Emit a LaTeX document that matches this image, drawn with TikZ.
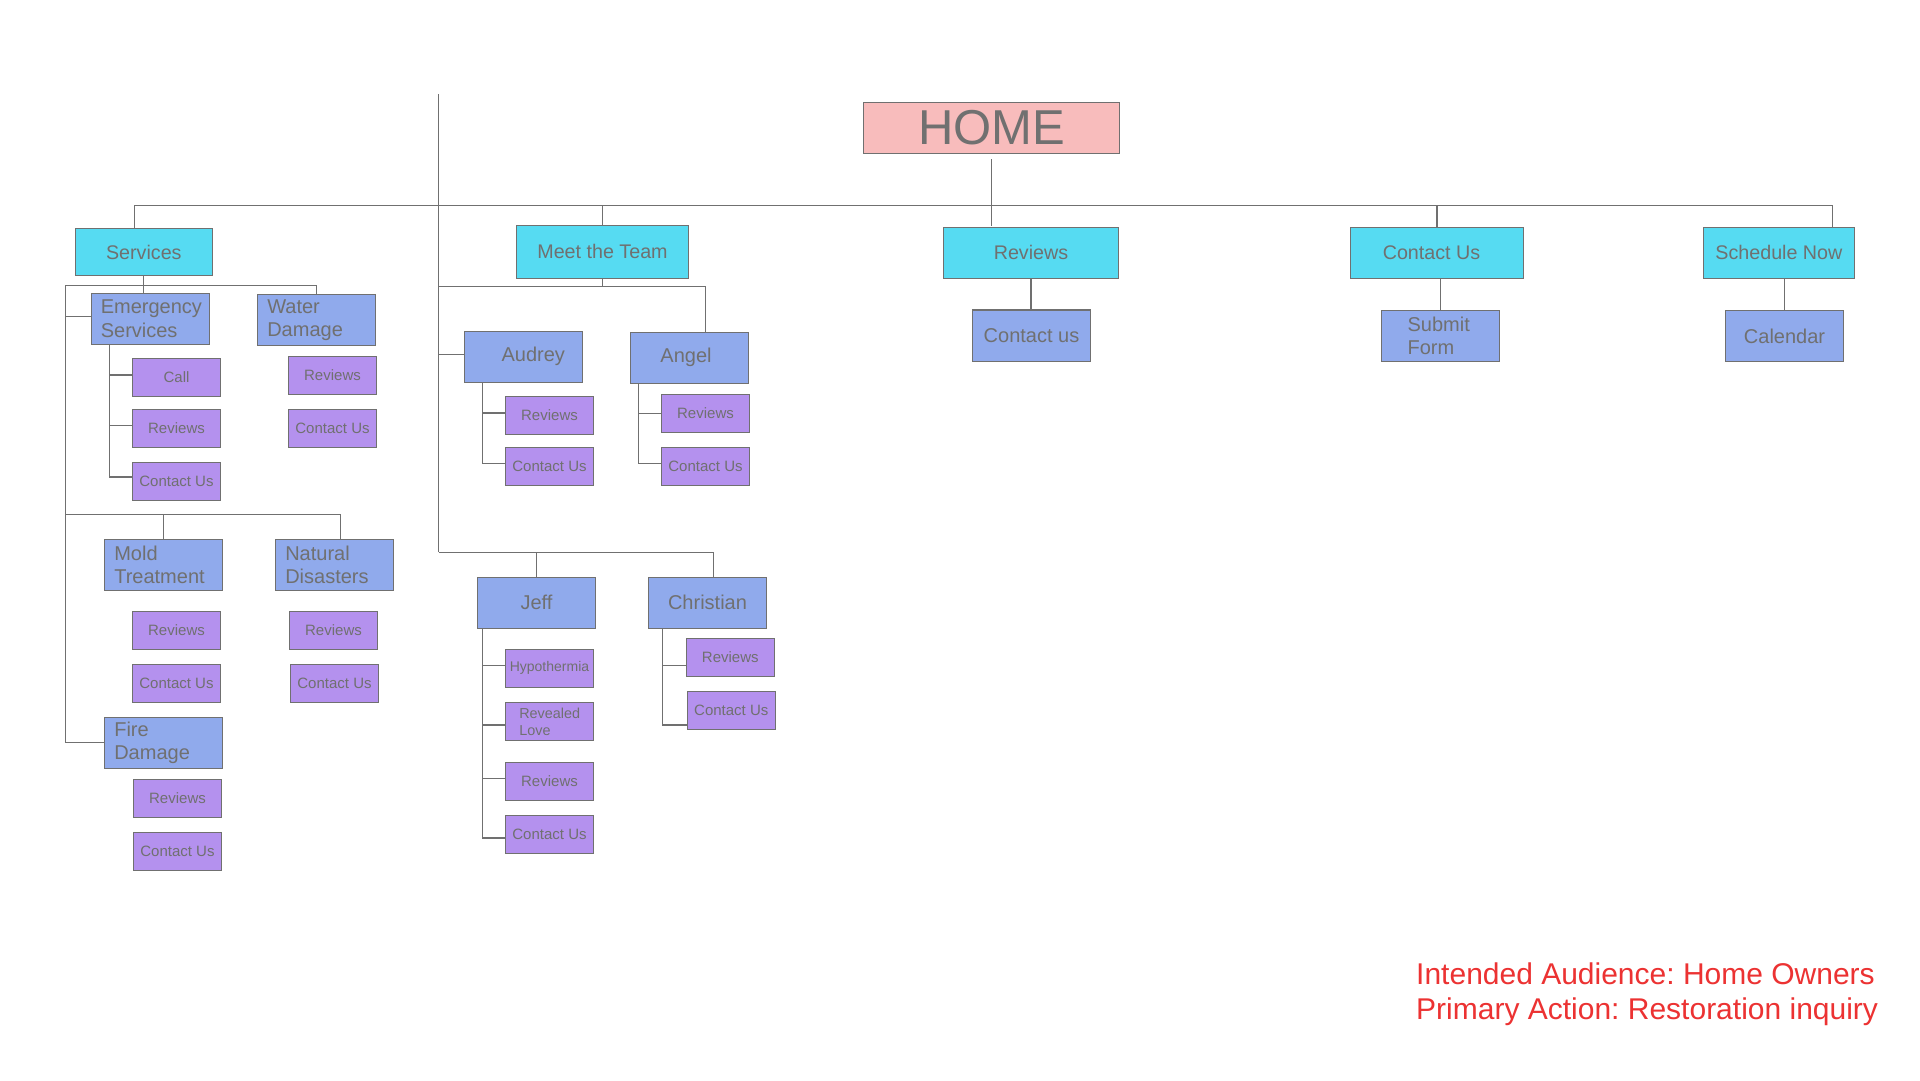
\documentclass[tikz,border=0pt]{standalone}
\usepackage{fontspec}
\setmainfont{Liberation Sans}
\definecolor{txt}{RGB}{112,112,112}
\definecolor{ln}{RGB}{112,112,112}
\definecolor{homefill}{RGB}{248,188,188}
\definecolor{cyanfill}{RGB}{86,219,242}
\definecolor{bluefill}{RGB}{144,170,236}
\definecolor{purpfill}{RGB}{180,145,238}
\definecolor{redtxt}{RGB}{236,50,50}
\tikzset{
  box/.style={draw=ln, line width=1.2pt, outer sep=0pt, inner sep=0pt, text=txt},
  homebox/.style={box, fill=homefill, font=\fontsize{49}{56}\selectfont},
  topbox/.style={box, fill=cyanfill, font=\fontsize{19.7}{23.6}\selectfont},
  midbox/.style={box, fill=bluefill, font=\fontsize{20}{23.6}\selectfont},
  leafbox/.style={box, fill=purpfill, font=\fontsize{15}{18}\selectfont},
  conn/.style={draw=ln, line width=1.2pt},
}
% style, name, left, top, right, bottom, text
\newcommand\bx[7]{%
  \pgfmathsetmacro\bxW{#5-#3}\pgfmathsetmacro\bxH{#6-#4}%
  \pgfmathsetmacro\bxX{(#3+#5)/2}\pgfmathsetmacro\bxY{(#4+#6)/2}%
  \node[#1, minimum width=\bxW pt, minimum height=\bxH pt] (#2) at (\bxX,\bxY) {#7};}
% [inset] style, name, left, top, right, bottom, text (left aligned)
\newcommand\bxl[8][10]{%
  \pgfmathsetmacro\bxW{#6-#4}\pgfmathsetmacro\bxH{#7-#5}%
  \pgfmathsetmacro\bxX{(#4+#6)/2}\pgfmathsetmacro\bxY{(#5+#7)/2}%
  \pgfmathsetmacro\bxT{#6-#4-2*#1}%
  \node[#2, minimum width=\bxW pt, minimum height=\bxH pt, inner xsep=#1pt,
        text width=\bxT pt, align=left] (#3) at (\bxX,\bxY) {#8};}
\begin{document}
\frenchspacing
\begin{tikzpicture}[x=1pt,y=-1pt]
\fill[white] (0,0) rectangle (1920,1080);
\useasboundingbox (0,0) rectangle (1920,1080);

% top level
\bx{homebox}{home}{863.3}{102.3}{1119.7}{153.3}{HOME}
\bx{topbox}{services}{75.3}{228.7}{212.3}{275.3}{Services}
\bx{topbox}{meet}{516.3}{225.3}{688.7}{278.3}{Meet the Team}
\bx{topbox}{reviews}{943.3}{227.3}{1118.7}{278.3}{Reviews}
\bx{topbox}{contact}{1350.5}{227.3}{1523.5}{278.3}{Contact Us\kern11pt}
\bx{topbox}{sched}{1703.3}{227.3}{1854.5}{278.3}{Schedule Now}
\bx{midbox}{contactus}{972.3}{310}{1090.7}{361.3}{Contact us}
\bxl[26]{midbox}{submit}{1381.6}{310.3}{1499.7}{361.7}{Submit\\Form}
\bx{midbox}{calendar}{1725.5}{310.3}{1843.6}{361.7}{Calendar}

% services subtree
\bxl[9.5]{midbox}{es}{91.3}{293.7}{209.7}{344.3}{Emergency\\Services}
\bxl{midbox}{water}{257.3}{294.7}{375.7}{345.7}{Water\\Damage}
\bx{leafbox}{call}{132.3}{358.7}{220.7}{396.3}{Call}
\bx{leafbox}{esrev}{132.3}{409.7}{220.7}{447.3}{Reviews}
\bx{leafbox}{escon}{132.3}{462.7}{220.7}{500.3}{Contact Us}
\bx{leafbox}{wdrev}{288.3}{356.3}{376.7}{394.3}{Reviews}
\bx{leafbox}{wdcon}{288.3}{409.7}{376.7}{447.3}{Contact Us}
\bxl{midbox}{mold}{104.3}{539.3}{222.7}{590.3}{Mold\\Treatment}
\bxl{midbox}{natural}{275.3}{539.3}{393.7}{590.3}{Natural\\Disasters}
\bx{leafbox}{mdrev}{132.3}{611.3}{220.7}{649.7}{Reviews}
\bx{leafbox}{mdcon}{132.3}{664.3}{220.7}{702.3}{Contact Us}
\bx{leafbox}{ndrev}{289.3}{611.3}{377.7}{649.7}{Reviews}
\bx{leafbox}{ndcon}{290.3}{664.3}{378.7}{702.3}{Contact Us}
\bxl{midbox}{fire}{104.3}{717.3}{222.7}{768.3}{Fire\\Damage}
\bx{leafbox}{fdrev}{133.3}{779.3}{221.7}{817.3}{Reviews}
\bx{leafbox}{fdcon}{133.3}{832.3}{221.7}{870.3}{Contact Us}

% team subtree
\bx{midbox}{audrey}{464.3}{331.3}{582.3}{382.3}{\kern20pt Audrey}
\bx{midbox}{angel}{630.3}{332.3}{748.7}{383.3}{Angel\kern7pt}
\bx{leafbox}{aurev}{505.3}{396.3}{593.7}{434.3}{Reviews}
\bx{leafbox}{aucon}{505.3}{447.3}{593.7}{485.3}{Contact Us}
\bx{leafbox}{anrev}{661.3}{394.3}{749.7}{432.3}{Reviews}
\bx{leafbox}{ancon}{661.3}{447.3}{749.7}{485.3}{Contact Us}
\bx{midbox}{jeff}{477.3}{577.3}{595.7}{628.3}{Jeff}
\bx{midbox}{christian}{648.3}{577.3}{766.7}{628.3}{Christian}
\bx{leafbox,font=\fontsize{14}{16}\selectfont}{hypo}{505.3}{649.3}{593.7}{687.3}{Hypothermia}
\bxl[14]{leafbox,font=\fontsize{14.4}{16.7}\selectfont}{love}{505.3}{702.7}{593.7}{740.3}{Revealed\\Love}
\bx{leafbox}{jrev}{505.3}{762.3}{593.7}{800.3}{Reviews}
\bx{leafbox}{jcon}{505.3}{815.3}{593.7}{853.3}{Contact Us}
\bx{leafbox}{crev}{686.3}{638.3}{774.3}{676.3}{Reviews}
\bx{leafbox}{ccon}{687.3}{691.3}{775.3}{729.3}{Contact Us}

% note
\node[text=redtxt, font=\fontsize{30}{35}\selectfont, align=left, anchor=north west, inner sep=0pt] (note) at (1416,963)
  {Intended Audience: Home Owners\\Primary Action: Restoration inquiry};

% junctions
\coordinate (vtop) at (438.5,94.3);
\coordinate (vbot) at (438.5,552.3);
\coordinate (busL) at (134.3,205.5);
\coordinate (busR) at (1832.3,205.5);
\coordinate (sbusL) at (65.7,285.7);
\coordinate (sbusR) at (316.7,285.7);
\coordinate (mbL) at (65.7,514.3);
\coordinate (mbR) at (340.3,514.3);
\coordinate (esv) at (109.3,344.3);
\coordinate (mbus) at (438.5,286.3);
\coordinate (angtop) at (705.3,286.3);
\coordinate (audv) at (482.3,382.3);
\coordinate (angv) at (638.7,383.3);
\coordinate (chtop) at (713.7,552.3);
\coordinate (jeffv) at (482.3,628.3);
\coordinate (chrv) at (662.7,628.3);

% main connectors
\draw[conn] (vtop) -- (vbot);
\draw[conn] (busL |- services.north) -- (busL) -- (busR) -- (busR |- sched.north)
  (meet.north |- busL) -- (meet.north)
  (contact.north |- busL) -- (contact.north);
\draw[conn] ([yshift=-6pt]home.south) -- ([yshift=1.5pt]home.south |- reviews.north);
\draw[conn] (reviews.south) -- (reviews.south |- contactus.north);
\draw[conn] (contact.south -| submit.north) -- (submit.north);
\draw[conn] (sched.south -| calendar.north) -- (calendar.north);

% services connectors
\draw[conn] (services.south) -- (services.south |- es.north);
\draw[conn] (fire.west) -| (sbusL) -- (sbusR) -- (sbusR |- water.north)
  ([yshift=2.7pt]es.west -| sbusL) -- ([yshift=2.7pt]es.west);
\draw[conn] (mold.north) -- (mold.north |- mbL) (mbL) -- (mbR) -- (mbR |- natural.north);
\draw[conn] ([yshift=4.5pt]escon.west) -| (esv)
  (esv |- call.west) |- ([yshift=2.5pt]call.west)
  (esv |- esrev.west) |- ([yshift=3.2pt]esrev.west);

% team connectors
\draw[conn] (meet.south) -- (meet.south |- mbus);
\draw[conn] (mbus) -- (angtop) -- (angtop |- angel.north);
\draw[conn] ([yshift=2.5pt]audrey.west -| vtop) -- ([yshift=2.5pt]audrey.west);
\draw[conn] ([yshift=3pt]aucon.west) -| (audv)
  (audv |- aurev.west) |- ([yshift=2.3pt]aurev.west);
\draw[conn] ([yshift=3pt]ancon.west) -| (angv)
  (angv |- anrev.west) -- (anrev.west);
\draw[conn] (vbot) -- (chtop) -- (chtop |- christian.north)
  (jeff.north |- vbot) -- (jeff.north);
\draw[conn] ([yshift=-3.7pt]jcon.west) -| (jeffv)
  (jeffv |- hypo.west) |- ([yshift=3pt]hypo.west)
  (jeffv |- love.west) |- ([yshift=-3.5pt]love.west)
  (jeffv |- jrev.west) |- ([yshift=3pt]jrev.west);
\draw[conn] ([yshift=-14.7pt]ccon.west) -| (chrv)
  (chrv |- crev.west) |- ([yshift=-8pt]crev.west);
\end{tikzpicture}
\end{document}
